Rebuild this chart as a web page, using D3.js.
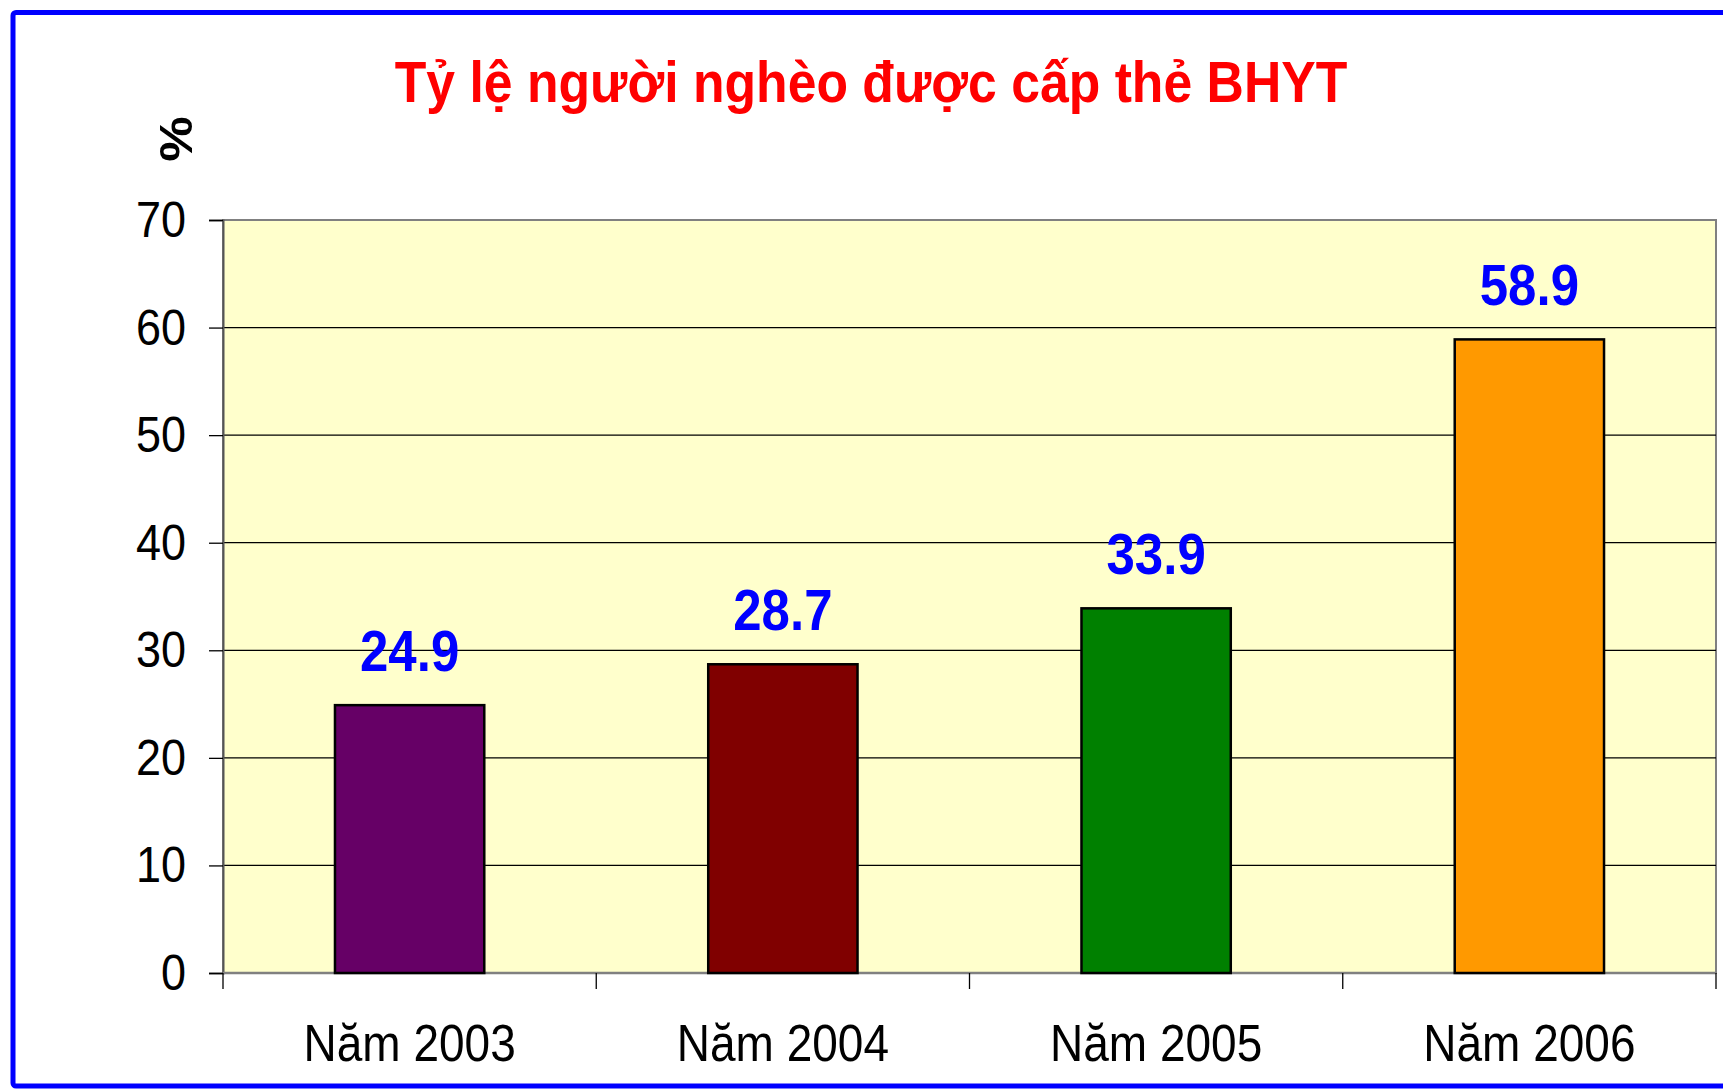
<!DOCTYPE html>
<html>
<head>
<meta charset="utf-8">
<script src="https://cdn.jsdelivr.net/npm/d3@7"></script>
<style>
  html, body { margin: 0; padding: 0; background: #fff; }
  svg { display: block; font-family: "Liberation Sans", Arial, sans-serif; }
</style>
</head>
<body>
<svg id="chart" width="1723" height="1091"></svg>
<script>
const categories = ['Năm 2003', 'Năm 2004', 'Năm 2005', 'Năm 2006']
const values = [24.9, 28.7, 33.9, 58.9]
const barColors = ['#660066', '#800000', '#008000', '#ff9900']
const yTicks = [0, 10, 20, 30, 40, 50, 60, 70]
const title = 'Tỷ lệ người nghèo được cấp thẻ BHYT'
const yLabel = '%'

const svg = d3.select('#chart')
const stretch = 1.11 // the picture's text is a little taller than wide
const margin = { left: 223, right: 1716, top: 220, bottom: 973 }

// frame
svg.append('rect')
  .attr('x', 13).attr('y', 12.5)
  .attr('width', 1760).attr('height', 1073.5)
  .attr('rx', 3)
  .attr('fill', '#fff')
  .attr('stroke', '#0000ff')
  .attr('stroke-width', 5)

const x = d3.scaleBand()
  .domain(categories)
  .range([margin.left, margin.right])
  .paddingInner(0.6)
  .paddingOuter(0.3)

const y = d3.scaleLinear()
  .domain([0, 70])
  .range([margin.bottom, margin.top])

// plot area
svg.append('rect')
  .attr('x', margin.left).attr('y', margin.top)
  .attr('width', margin.right - margin.left)
  .attr('height', margin.bottom - margin.top)
  .attr('fill', '#ffffcc')
  .attr('stroke', '#808080')
  .attr('stroke-width', 2)

// grid
svg.append('g')
  .selectAll('line')
  .data(yTicks.filter((d) => d > 0 && d < 70))
  .join('line')
  .attr('x1', margin.left).attr('x2', margin.right)
  .attr('y1', (d) => y(d)).attr('y2', (d) => y(d))
  .attr('stroke', '#000')
  .attr('stroke-width', 1.3)

// y axis
const yAxis = svg.append('g')
  .attr('transform', `translate(${margin.left},0)`)
  .call(d3.axisLeft(y).tickValues(yTicks).tickSize(14).tickFormat(''))
yAxis.select('.domain').attr('stroke', '#555').attr('stroke-width', 2)
yAxis.selectAll('.tick line').attr('stroke', '#000').attr('stroke-width', 1.3)

svg.append('g')
  .selectAll('text')
  .data(yTicks)
  .join('text')
  .attr('transform', (d) => `translate(186,${y(d) + 17}) scale(1,${stretch})`)
  .attr('text-anchor', 'end')
  .attr('font-size', 45)
  .attr('fill', '#000')
  .text((d) => d)

// x axis, ticks sit on the category boundaries
svg.append('line')
  .attr('x1', margin.left).attr('x2', margin.right)
  .attr('y1', margin.bottom).attr('y2', margin.bottom)
  .attr('stroke', '#808080').attr('stroke-width', 2.5)
const edges = categories.map((c, i) => margin.left + i * x.step()).concat([margin.right])
svg.append('g')
  .selectAll('line')
  .data(edges)
  .join('line')
  .attr('x1', (d) => d).attr('x2', (d) => d)
  .attr('y1', margin.bottom).attr('y2', margin.bottom + 16)
  .attr('stroke', '#000').attr('stroke-width', 1.3)

svg.append('g')
  .selectAll('text')
  .data(categories)
  .join('text')
  .attr('transform', (d) => `translate(${x(d) + x.bandwidth() / 2},1061) scale(1,${stretch})`)
  .attr('text-anchor', 'middle')
  .attr('font-size', 46)
  .attr('fill', '#000')
  .text((d) => d)

// bars
svg.append('g')
  .selectAll('rect')
  .data(values)
  .join('rect')
  .attr('x', (d, i) => x(categories[i]))
  .attr('y', (d) => y(d))
  .attr('width', x.bandwidth())
  .attr('height', (d) => y(0) - y(d))
  .attr('fill', (d, i) => barColors[i])
  .attr('stroke', '#000')
  .attr('stroke-width', 2.5)

// value labels
svg.append('g')
  .selectAll('text')
  .data(values)
  .join('text')
  .attr('transform', (d, i) => `translate(${x(categories[i]) + x.bandwidth() / 2},${y(d) - 34}) scale(1,${stretch})`)
  .attr('text-anchor', 'middle')
  .attr('font-size', 51)
  .attr('font-weight', 'bold')
  .attr('fill', '#0000ff')
  .text((d) => d.toFixed(1))

// title
svg.append('text')
  .attr('transform', `translate(871,102) scale(1,${stretch})`)
  .attr('text-anchor', 'middle')
  .attr('font-size', 51.7)
  .attr('font-weight', 'bold')
  .attr('fill', '#ff0000')
  .text(title)

// y label
svg.append('text')
  .attr('transform', `translate(192,139) scale(1,${stretch}) rotate(-90)`)
  .attr('text-anchor', 'middle')
  .attr('font-size', 46)
  .attr('font-weight', 'bold')
  .attr('fill', '#000')
  .text(yLabel)
</script>
</body>
</html>
